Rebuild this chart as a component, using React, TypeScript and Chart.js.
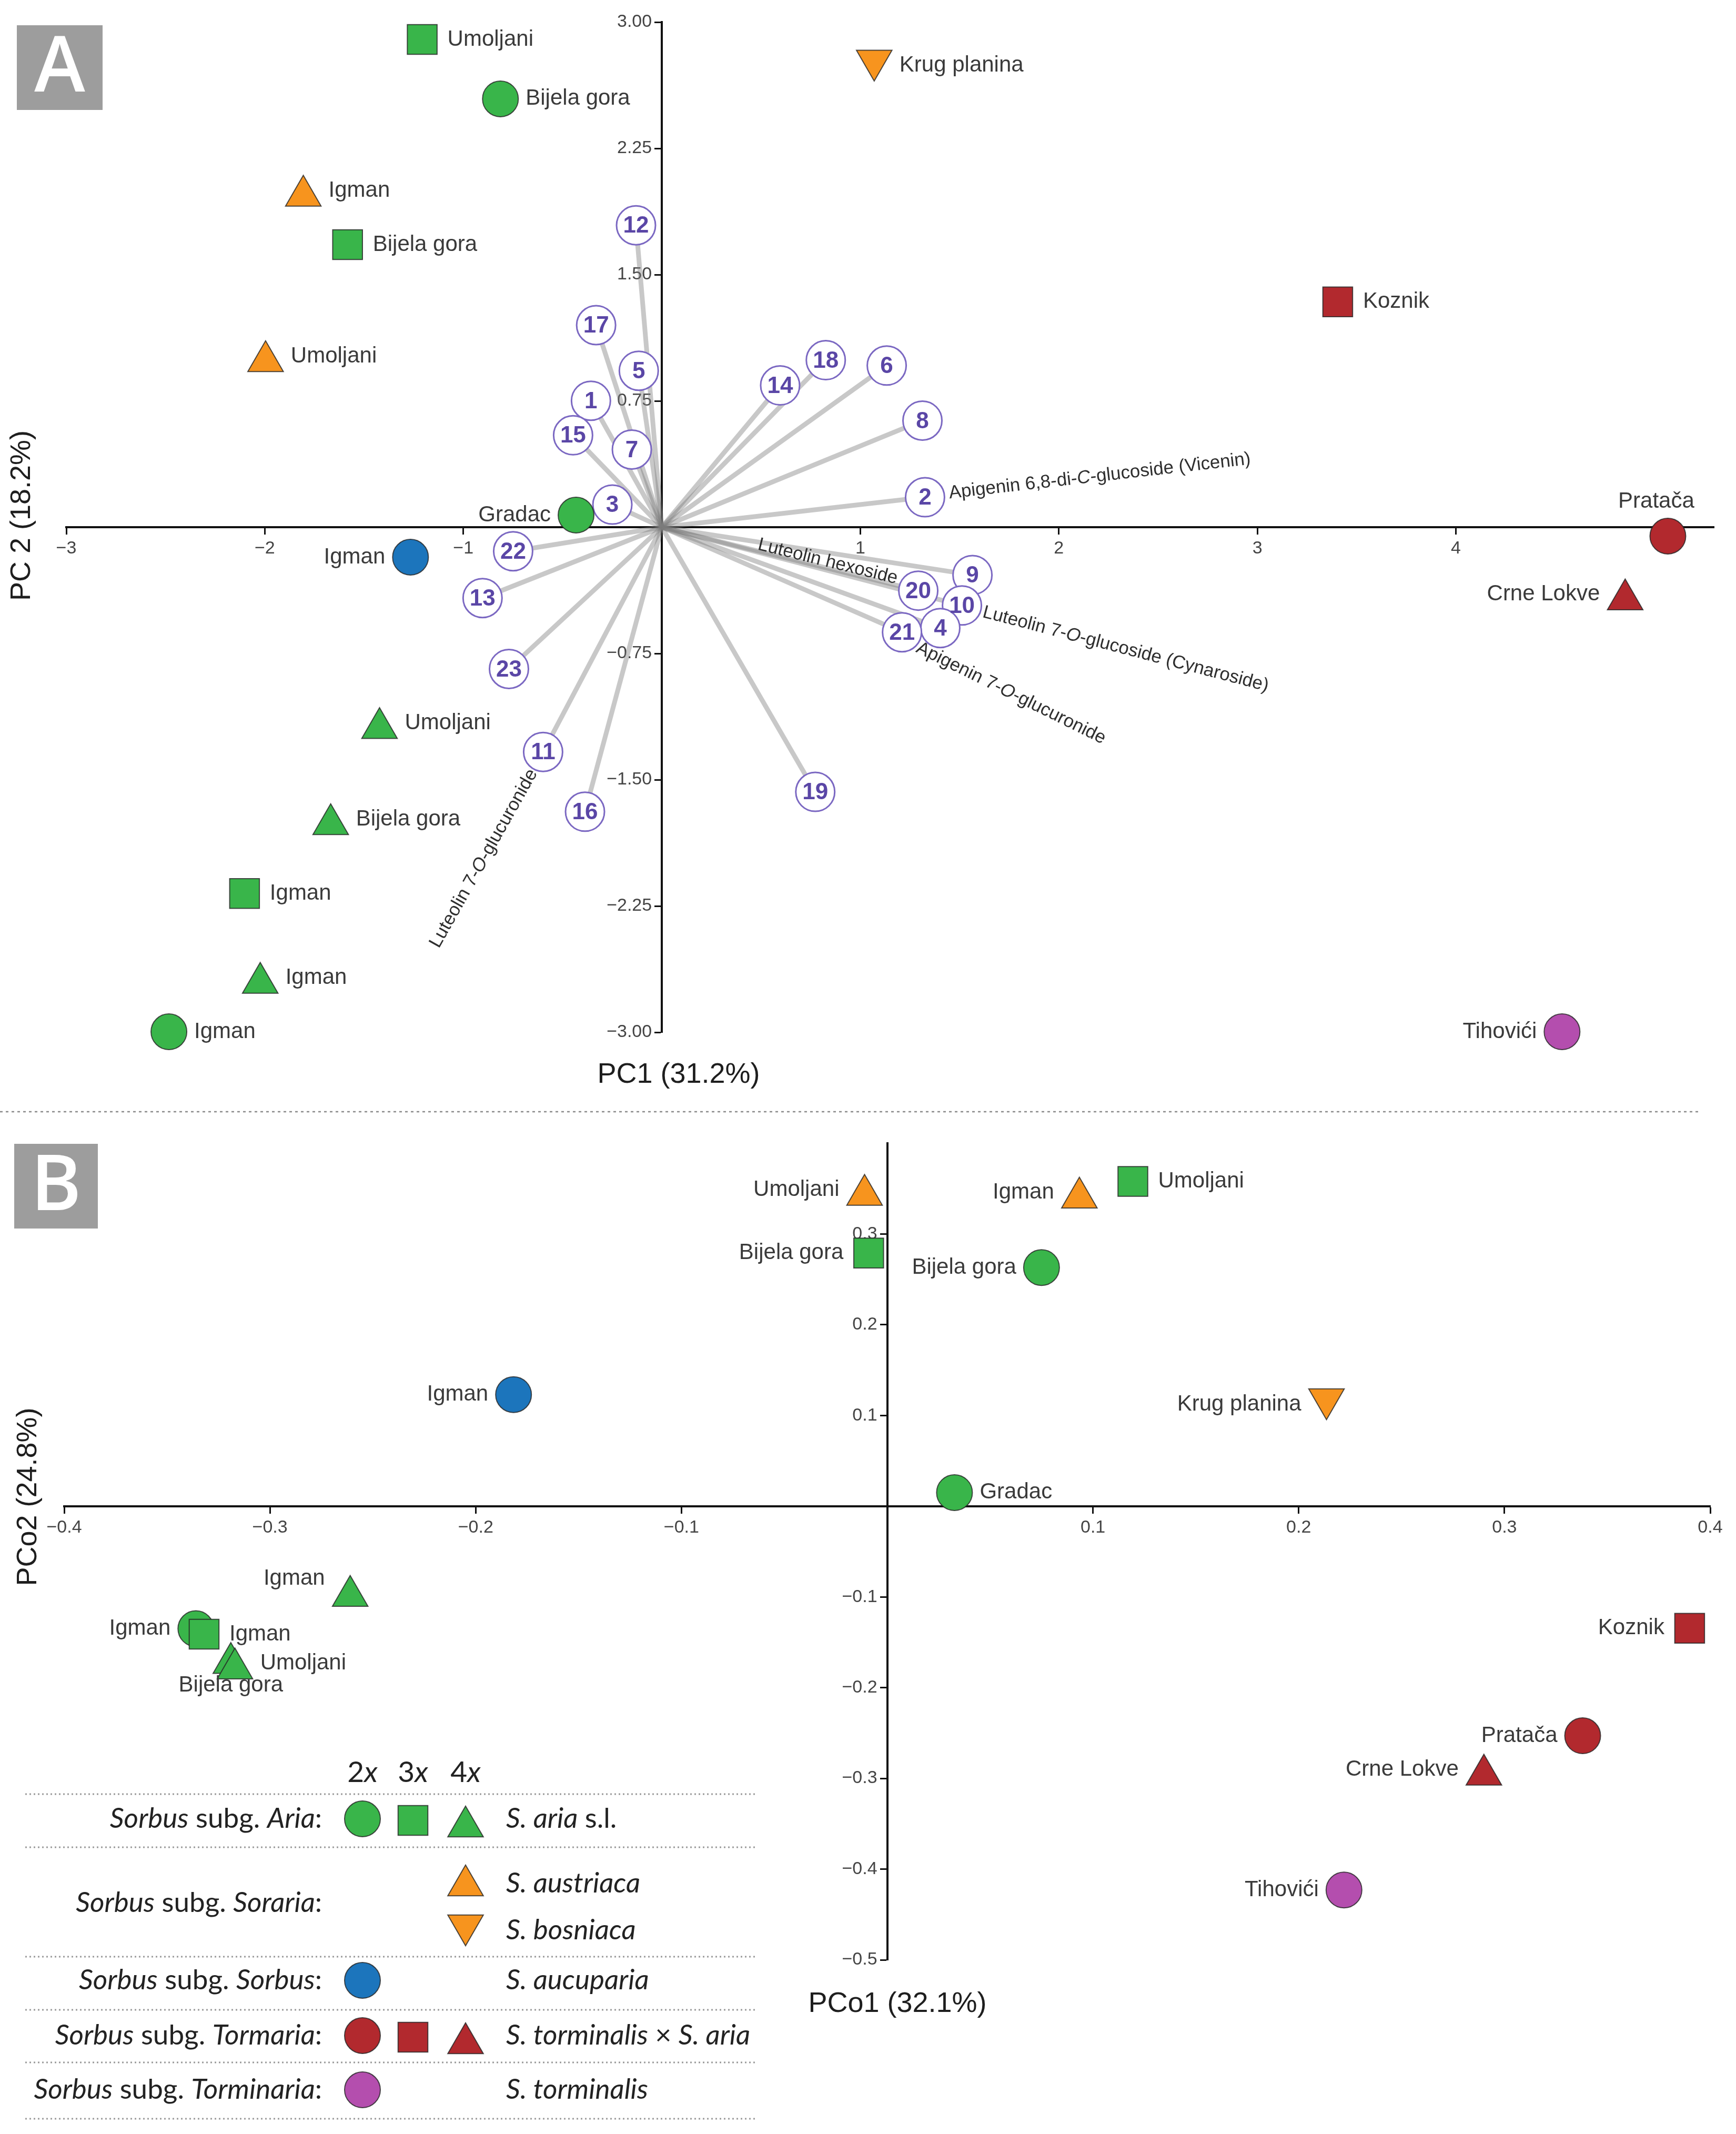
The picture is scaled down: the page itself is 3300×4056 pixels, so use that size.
import React, { useEffect, useRef } from 'react';
import { Chart, registerables } from 'chart.js';

Chart.register(...registerables);

// ---------------- DATA: panel A (PCA biplot) ----------------
const siteA = ['Umoljani', 'Bijela gora', 'Igman', 'Bijela gora', 'Umoljani', 'Gradac', 'Igman', 'Umoljani', 'Bijela gora', 'Igman', 'Igman', 'Igman', 'Krug planina', 'Koznik', 'Pratača', 'Crne Lokve', 'Tihovići'];
const taxonA = ['aria', 'aria', 'austriaca', 'aria', 'austriaca', 'aria', 'aucuparia', 'aria', 'aria', 'aria', 'aria', 'aria', 'bosniaca', 'hybrid', 'hybrid', 'hybrid', 'torminalis'];
const ploidyA = [3, 2, 4, 3, 4, 2, 2, 4, 4, 3, 4, 2, 4, 3, 2, 4, 2];
const pc1 = [-1.207, -0.813, -1.806, -1.583, -1.996, -0.432, -1.266, -1.422, -1.668, -2.102, -2.023, -2.483, 1.07, 3.405, 5.068, 4.853, 4.535];
const pc2 = [2.897, 2.544, 1.968, 1.678, 0.985, 0.072, -0.178, -1.194, -1.765, -2.176, -2.707, -2.997, 2.772, 1.338, -0.053, -0.43, -2.997];
const labelPosA = ['r', 'r', 'r', 'r', 'r', 'l', 'l', 'r', 'r', 'r', 'r', 'r', 'r', 'r', 'a', 'l', 'l'];

// loadings (compound vectors)
const loadingId = [12, 17, 5, 1, 15, 7, 3, 14, 18, 6, 8, 2, 22, 13, 23, 11, 16, 19, 9, 20, 10, 4, 21];
const loadingPC1 = [-0.13, -0.331, -0.116, -0.357, -0.447, -0.151, -0.249, 0.596, 0.826, 1.133, 1.313, 1.326, -0.749, -0.903, -0.77, -0.598, -0.387, 0.773, 1.565, 1.292, 1.512, 1.403, 1.21];
const loadingPC2 = [1.793, 1.2, 0.929, 0.751, 0.546, 0.461, 0.134, 0.842, 0.992, 0.96, 0.633, 0.178, -0.143, -0.421, -0.842, -1.335, -1.69, -1.572, -0.284, -0.377, -0.465, -0.599, -0.624];

// named compounds
const compoundOf = [2, 20, 10, 21, 11];
const compoundName = ['Apigenin 6,8-di-*C*-glucoside (Vicenin)', 'Luteolin hexoside', 'Luteolin 7-*O*-glucoside (Cynaroside)', 'Apigenin 7-*O*-glucuronide', 'Luteolin 7-*O*-glucuronide'];

// axis ticks panel A
const pc1Ticks = [-3, -2, -1, 1, 2, 3, 4];
const pc2Ticks = [3, 2.25, 1.5, 0.75, -0.75, -1.5, -2.25, -3];

// ---------------- DATA: panel B (PCoA) ----------------
const siteB = ['Umoljani', 'Bijela gora', 'Igman', 'Igman', 'Igman', 'Igman', 'Bijela gora', 'Umoljani', 'Igman', 'Umoljani', 'Bijela gora', 'Krug planina', 'Gradac', 'Koznik', 'Pratača', 'Crne Lokve', 'Tihovići'];
const taxonB = ['austriaca', 'aria', 'aucuparia', 'aria', 'aria', 'aria', 'aria', 'aria', 'austriaca', 'aria', 'aria', 'bosniaca', 'aria', 'hybrid', 'hybrid', 'hybrid', 'torminalis'];
const ploidyB = [4, 3, 2, 4, 2, 3, 4, 4, 4, 3, 2, 4, 2, 3, 2, 4, 2];
const pco1 = [-0.011, -0.009, -0.1816, -0.261, -0.336, -0.332, -0.319, -0.317, 0.0934, 0.1194, 0.075, 0.2135, 0.0327, 0.39, 0.338, 0.29, 0.222];
const pco2 = [0.343, 0.279, 0.123, -0.099, -0.135, -0.141, -0.173, -0.179, 0.34, 0.358, 0.263, 0.118, 0.015, -0.1345, -0.253, -0.296, -0.423];
const labelPosB = ['l', 'l', 'l', 'lu', 'l', 'r', 'b', 'r', 'l', 'r', 'l', 'l', 'r', 'l', 'l', 'l', 'l'];

const pco1Ticks = [-0.4, -0.3, -0.2, -0.1, 0.1, 0.2, 0.3, 0.4];
const pco2Ticks = [0.3, 0.2, 0.1, -0.1, -0.2, -0.3, -0.4, -0.5];

// legend
const legendGroups = ['*Sorbus* subg. *Aria*:', '*Sorbus* subg. *Soraria*:', '*Sorbus* subg. *Sorbus*:', '*Sorbus* subg. *Tormaria*:', '*Sorbus* subg. *Torminaria*:'];
const legendPloidy = ['2*x*', '3*x*', '4*x*'];

// ---------------- styles ----------------
const FONT = '"Liberation Sans", Arial, Helvetica, sans-serif';
const LFONT = 'Lato, "Open Sans", sans-serif';
const TAXON_COLOR: Record<string, string> = {
  aria: '#39B54A', austriaca: '#F7941E', bosniaca: '#F7941E', aucuparia: '#1C75BC', hybrid: '#B2292E', torminalis: '#B44EAE',
};
const SHAPE: Record<number, string> = { 2: 'circle', 3: 'rect', 4: 'triangle' };
const RAD: Record<string, number> = { circle: 34, rect: 40, triangle: 39 };
const MARK_BORDER = 'rgba(35,35,35,0.8)';
const LEG_SIZE = 53;
const LEG_COLOR = '#222';

const fmtMinus = (s: string) => s.replace('-', '\u2212');

function drawRich(ctx: CanvasRenderingContext2D, text: string, x: number, y: number, align: string, size: number, family: string, color: string, weight = '400') {
  const parts = text.split('*');
  const fonts = parts.map((_, i) => `${i % 2 ? 'italic ' : ''}${weight} ${size}px ${family}`);
  let total = 0;
  const widths = parts.map((p, i) => {
    ctx.font = fonts[i];
    const w = ctx.measureText(p).width;
    total += w;
    return w;
  });
  let cx = align === 'left' ? x : align === 'right' ? x - total : x - total / 2;
  ctx.textAlign = 'left';
  ctx.textBaseline = 'middle';
  ctx.fillStyle = color;
  parts.forEach((p, i) => {
    ctx.font = fonts[i];
    ctx.fillText(p, cx, y);
    cx += widths[i];
  });
}

function drawShape(ctx: CanvasRenderingContext2D, shape: string, x: number, y: number, r: number, rotDeg: number, fill: string) {
  ctx.save();
  ctx.beginPath();
  if (shape === 'circle') ctx.arc(x, y, r, 0, Math.PI * 2);
  else if (shape === 'rect') {
    const s = r * Math.SQRT1_2;
    ctx.rect(x - s, y - s, 2 * s, 2 * s);
  } else {
    let a = (rotDeg * Math.PI) / 180;
    ctx.moveTo(x + Math.sin(a) * r, y - Math.cos(a) * r);
    a += (2 * Math.PI) / 3;
    ctx.lineTo(x + Math.sin(a) * r, y - Math.cos(a) * r);
    a += (2 * Math.PI) / 3;
    ctx.lineTo(x + Math.sin(a) * r, y - Math.cos(a) * r);
    ctx.closePath();
  }
  ctx.fillStyle = fill;
  ctx.fill();
  ctx.lineWidth = 2;
  ctx.strokeStyle = MARK_BORDER;
  ctx.stroke();
  ctx.restore();
}

function siteDataset(xs: number[], ys: number[], taxa: string[], ploidy: number[]) {
  const shapes = ploidy.map((p) => SHAPE[p]);
  return {
    type: 'scatter',
    data: xs.map((x, i) => ({ x, y: ys[i] })),
    pointStyle: shapes,
    pointRadius: shapes.map((s) => RAD[s]),
    pointHoverRadius: shapes.map((s) => RAD[s]),
    pointRotation: taxa.map((t) => (t === 'bosniaca' ? 180 : 0)),
    pointBackgroundColor: taxa.map((t) => TAXON_COLOR[t]),
    pointBorderColor: MARK_BORDER,
    pointBorderWidth: 2,
    showLine: false,
    clip: false,
    order: 0,
  };
}

function axis(min: number, max: number, ticks: number[], fmt: (v: number) => string, isX: boolean) {
  return {
    type: 'linear',
    min,
    max,
    position: isX ? { y: 0 } : { x: 0 },
    afterFit: (s: any) => {
      if (isX) s.height = 0;
      else s.width = 0;
    },
    afterBuildTicks: (s: any) => {
      s.ticks = ticks.map((v) => ({ value: v }));
    },
    border: { display: true, color: '#111', width: 4 },
    grid: { display: true, drawOnChartArea: false, drawTicks: true, tickLength: 12, tickWidth: 3, tickColor: '#111', color: '#111' },
    ticks: {
      autoSkip: false,
      maxRotation: 0,
      minRotation: 0,
      padding: 8,
      color: '#444',
      font: { family: FONT, size: 34 },
      // vertical axes placed at x = 0 put the label end on the axis line; pad with spaces
      callback: (v: number) => (isX ? fmt(v) : fmt(v) + '\u00a0\u00a0'),
    },
  };
}

function drawSiteLabels(chart: any, names: string[], pos: string[], taxa: string[], ploidy: number[]) {
  const ctx = chart.ctx as CanvasRenderingContext2D;
  const meta = chart.getDatasetMeta(0);
  meta.data.forEach((pt: any, i: number) => {
    const shape = SHAPE[ploidy[i]];
    const r = RAD[shape];
    let dy = 0;
    if (shape === 'triangle') dy = taxa[i] === 'bosniaca' ? r / 4 : -r / 4;
    const p = pos[i];
    let x = pt.x;
    let y = pt.y + dy;
    let align = 'left';
    if (p === 'r') x = pt.x + 48;
    else if (p === 'l') {
      x = pt.x - 48;
      align = 'right';
    } else if (p === 'lu') {
      x = pt.x - 48;
      y = pt.y - 33;
      align = 'right';
    } else if (p === 'a') {
      x = pt.x - 22;
      y = pt.y - 66;
      align = 'center';
    } else if (p === 'b') {
      y = pt.y + 42;
      align = 'center';
    }
    drawRich(ctx, names[i], x, y, align, 42, FONT, '#3a3a3a');
  });
}

function panelLetter(ctx: CanvasRenderingContext2D, letter: string, x: number, y: number, w: number, h: number) {
  ctx.save();
  ctx.fillStyle = '#9d9d9d';
  ctx.fillRect(x, y, w, h);
  ctx.fillStyle = '#ffffff';
  ctx.font = `600 146px "Open Sans", Lato, sans-serif`;
  ctx.textAlign = 'center';
  ctx.textBaseline = 'middle';
  ctx.fillText(letter, x + w / 2, y + h / 2 + 4);
  ctx.restore();
}

const whiteBg = {
  id: 'whiteBg',
  beforeDraw(chart: any) {
    const ctx = chart.ctx;
    ctx.save();
    ctx.fillStyle = '#fff';
    ctx.fillRect(0, 0, chart.width, chart.height);
    ctx.restore();
  },
};

// compound label placement (style)
const cSide = ['after', 'before', 'after', 'after', 'after'];
const cGap = [46, 44, 42, 38, 40];
const cPerp = [-2, -12, 2, 14, 0];
const cRotDelta = [0, 0, 0, 2.7, 1.5];
const cFlip = [false, false, false, false, true];

const pluginA = {
  id: 'panelA',
  afterDatasetsDraw(chart: any) {
    const ctx = chart.ctx as CanvasRenderingContext2D;
    const lm = chart.getDatasetMeta(1);
    const ox = chart.scales.x.getPixelForValue(0);
    const oy = chart.scales.y.getPixelForValue(0);
    // compound names
    compoundOf.forEach((id, k) => {
      const i = loadingId.indexOf(id);
      const p = lm.data[i];
      const a = Math.atan2(p.y - oy, p.x - ox);
      const dx = Math.cos(a);
      const dy = Math.sin(a);
      const sign = cSide[k] === 'after' ? 1 : -1;
      const ax = p.x + sign * cGap[k] * dx - cPerp[k] * dy;
      const ay = p.y + sign * cGap[k] * dy + cPerp[k] * dx;
      let rot = a + (cRotDelta[k] * Math.PI) / 180;
      let align = cSide[k] === 'after' ? 'left' : 'right';
      if (cFlip[k]) {
        rot += Math.PI;
        align = align === 'left' ? 'right' : 'left';
      }
      ctx.save();
      ctx.translate(ax, ay);
      ctx.rotate(rot);
      drawRich(ctx, compoundName[k], 0, 0, align, 35, FONT, '#2e2e2e');
      ctx.restore();
    });
    // loading numbers
    ctx.save();
    ctx.font = `700 44px ${FONT}`;
    ctx.fillStyle = '#5a46a6';
    ctx.textAlign = 'center';
    ctx.textBaseline = 'middle';
    lm.data.forEach((pt: any, i: number) => {
      ctx.fillText(String(loadingId[i]), pt.x, pt.y + 2);
    });
    ctx.restore();
    drawSiteLabels(chart, siteA, labelPosA, taxonA, ploidyA);
  },
  afterDraw(chart: any) {
    const ctx = chart.ctx as CanvasRenderingContext2D;
    panelLetter(ctx, 'A', 32, 48, 163, 161);
    ctx.save();
    ctx.fillStyle = '#1e1e1e';
    ctx.font = `54px ${FONT}`;
    ctx.textAlign = 'center';
    ctx.textBaseline = 'middle';
    ctx.fillText('PC1 (31.2%)', 1290, 2043);
    ctx.translate(42, 980);
    ctx.rotate(-Math.PI / 2);
    ctx.fillText('PC 2 (18.2%)', 0, 0);
    ctx.restore();
    // separator
    ctx.save();
    ctx.strokeStyle = '#8a8a8a';
    ctx.lineWidth = 2.5;
    ctx.setLineDash([5, 6]);
    ctx.beginPath();
    ctx.moveTo(0, 2113);
    ctx.lineTo(3231, 2113);
    ctx.stroke();
    ctx.restore();
  },
};

const B_TOP = 2120;

const pluginB = {
  id: 'panelB',
  afterDatasetsDraw(chart: any) {
    drawSiteLabels(chart, siteB, labelPosB, taxonB, ploidyB);
  },
  afterDraw(chart: any) {
    const ctx = chart.ctx as CanvasRenderingContext2D;
    panelLetter(ctx, 'B', 27, 2174 - B_TOP, 159, 161);
    ctx.save();
    ctx.fillStyle = '#1e1e1e';
    ctx.font = `54px ${FONT}`;
    ctx.textAlign = 'center';
    ctx.textBaseline = 'middle';
    ctx.fillText('PCo1 (32.1%)', 1706, 3809 - B_TOP);
    ctx.translate(54, 2845 - B_TOP);
    ctx.rotate(-Math.PI / 2);
    ctx.fillText('PCo2 (24.8%)', 0, 0);
    ctx.restore();

    // legend
    const T = (y: number) => y - B_TOP;
    ctx.save();
    ctx.strokeStyle = '#9a9a9a';
    ctx.lineWidth = 3;
    ctx.setLineDash([3, 5]);
    [3410, 3511, 3719, 3820, 3920, 4027].forEach((y) => {
      ctx.beginPath();
      ctx.moveTo(48, T(y));
      ctx.lineTo(1435, T(y));
      ctx.stroke();
    });
    ctx.restore();
    const colX = [689, 785, 885];
    legendPloidy.forEach((t, i) => drawRich(ctx, t, colX[i], T(3369), 'center', 55, LFONT, LEG_COLOR));
    const rowY = [3457, 3617, 3764, 3869, 3972];
    legendGroups.forEach((t, i) => drawRich(ctx, t, 612, T(rowY[i]), 'right', LEG_SIZE, LFONT, LEG_COLOR));
    const spX = 962;
    // row 1 aria
    drawShape(ctx, 'circle', colX[0], T(3457), RAD.circle, 0, TAXON_COLOR.aria);
    drawShape(ctx, 'rect', colX[1], T(3460), RAD.rect, 0, TAXON_COLOR.aria);
    drawShape(ctx, 'triangle', colX[2], T(3462) + RAD.triangle / 4, RAD.triangle, 0, TAXON_COLOR.aria);
    drawRich(ctx, '*S. aria* s.l.', spX, T(3457), 'left', LEG_SIZE, LFONT, LEG_COLOR);
    // row 2 soraria
    drawShape(ctx, 'triangle', colX[2], T(3574) + RAD.triangle / 4, RAD.triangle, 0, TAXON_COLOR.austriaca);
    drawRich(ctx, '*S. austriaca*', spX, T(3580), 'left', LEG_SIZE, LFONT, LEG_COLOR);
    drawShape(ctx, 'triangle', colX[2], T(3669) - RAD.triangle / 4, RAD.triangle, 180, TAXON_COLOR.bosniaca);
    drawRich(ctx, '*S. bosniaca*', spX, T(3669), 'left', LEG_SIZE, LFONT, LEG_COLOR);
    // row 3 sorbus
    drawShape(ctx, 'circle', colX[0], T(3764), RAD.circle, 0, TAXON_COLOR.aucuparia);
    drawRich(ctx, '*S. aucuparia*', spX, T(3764), 'left', LEG_SIZE, LFONT, LEG_COLOR);
    // row 4 tormaria
    drawShape(ctx, 'circle', colX[0], T(3869), RAD.circle, 0, TAXON_COLOR.hybrid);
    drawShape(ctx, 'rect', colX[1], T(3872), RAD.rect, 0, TAXON_COLOR.hybrid);
    drawShape(ctx, 'triangle', colX[2], T(3874) + RAD.triangle / 4, RAD.triangle, 0, TAXON_COLOR.hybrid);
    drawRich(ctx, '*S. torminalis* × *S. aria*', spX, T(3869), 'left', LEG_SIZE, LFONT, LEG_COLOR);
    // row 5 torminaria
    drawShape(ctx, 'circle', colX[0], T(3972), RAD.circle, 0, TAXON_COLOR.torminalis);
    drawRich(ctx, '*S. torminalis*', spX, T(3972), 'left', LEG_SIZE, LFONT, LEG_COLOR);
  },
};

function buildConfigA(): any {
  const vectorSets = loadingId.map((_, i) => ({
    type: 'scatter',
    data: [
      { x: 0, y: 0 },
      { x: loadingPC1[i], y: loadingPC2[i] },
    ],
    showLine: true,
    borderColor: 'rgba(125,125,125,0.42)',
    borderWidth: 9,
    pointRadius: 0,
    pointHoverRadius: 0,
    clip: false,
    order: 2,
  }));
  return {
    type: 'scatter',
    data: {
      datasets: [
        siteDataset(pc1, pc2, taxonA, ploidyA),
        {
          type: 'scatter',
          data: loadingPC1.map((x, i) => ({ x, y: loadingPC2[i] })),
          pointStyle: 'circle',
          pointRadius: 37,
          pointHoverRadius: 37,
          pointBackgroundColor: '#ffffff',
          pointBorderColor: '#7b68c2',
          pointBorderWidth: 3,
          clip: false,
          order: 1,
        },
        ...vectorSets,
      ],
    },
    options: {
      responsive: false,
      devicePixelRatio: 1,
      animation: false,
      events: [],
      layout: { padding: { left: 126, right: 39, top: 38, bottom: 158 } },
      plugins: { legend: { display: false }, tooltip: { enabled: false }, title: { display: false } },
      scales: {
        x: axis(-3, 5.3, pc1Ticks, (v) => fmtMinus(String(v)), true),
        y: axis(-3, 3, pc2Ticks, (v) => fmtMinus(v.toFixed(2)), false),
      },
    },
    plugins: [whiteBg, pluginA],
  };
}

function buildConfigB(): any {
  return {
    type: 'scatter',
    data: { datasets: [siteDataset(pco1, pco2, taxonB, ploidyB)] },
    options: {
      responsive: false,
      devicePixelRatio: 1,
      animation: false,
      events: [],
      layout: { padding: { left: 122, right: 49, top: 53, bottom: 331 } },
      plugins: { legend: { display: false }, tooltip: { enabled: false }, title: { display: false } },
      scales: {
        x: axis(-0.4, 0.4, pco1Ticks, (v) => fmtMinus(v.toFixed(1)), true),
        y: axis(-0.5, 0.4, pco2Ticks, (v) => fmtMinus(v.toFixed(1)), false),
      },
    },
    plugins: [whiteBg, pluginB],
  };
}

export default function App() {
  const refA = useRef<HTMLCanvasElement>(null);
  const refB = useRef<HTMLCanvasElement>(null);
  useEffect(() => {
    document.body.style.margin = '0';
    const ca = new Chart(refA.current as HTMLCanvasElement, buildConfigA());
    const cb = new Chart(refB.current as HTMLCanvasElement, buildConfigB());
    return () => {
      ca.destroy();
      cb.destroy();
    };
  }, []);
  return (
    <div style={{ position: 'relative', width: 3300, height: 4056, background: '#fff' }}>
      <canvas ref={refA} width={3300} height={2120} style={{ position: 'absolute', left: 0, top: 0, width: 3300, height: 2120, display: 'block' }} />
      <canvas ref={refB} width={3300} height={1936} style={{ position: 'absolute', left: 0, top: B_TOP, width: 3300, height: 1936, display: 'block' }} />
    </div>
  );
}
